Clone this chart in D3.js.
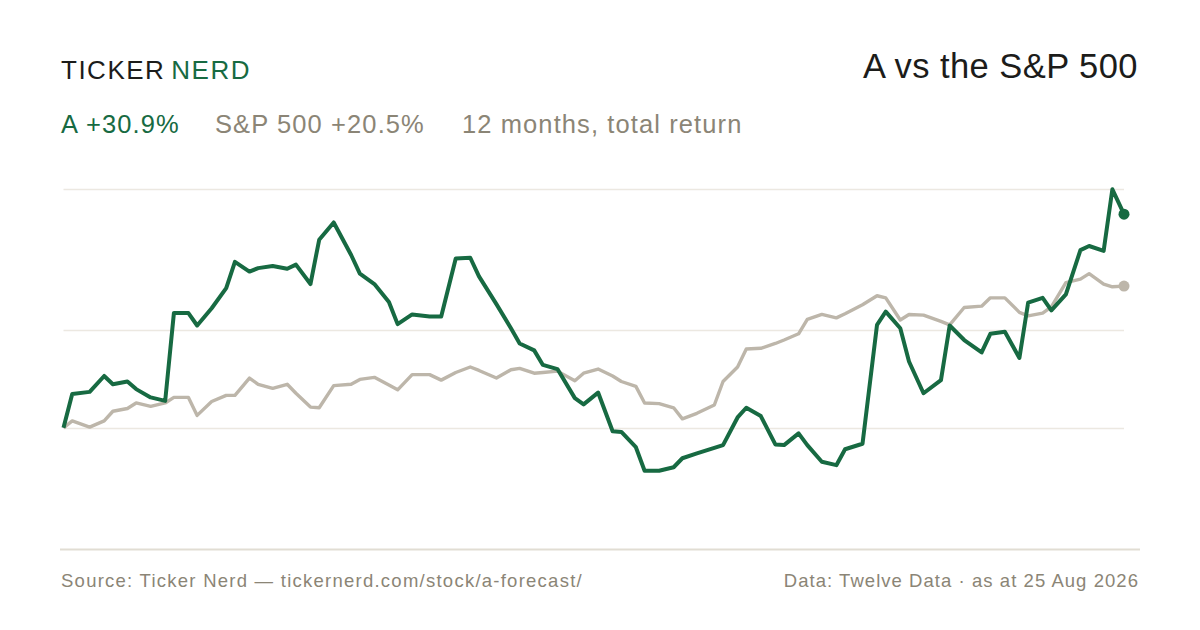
<!DOCTYPE html>
<html>
<head>
<meta charset="utf-8">
<script src="https://cdn.jsdelivr.net/npm/d3@7"></script>
<style>
  html, body { margin: 0; padding: 0; background: #fff; }
  svg { display: block; font-family: 'Liberation Sans', Arial, sans-serif; }
</style>
</head>
<body>
<script>
// sample dates, every third trading day plus the last close
const dates = [
  '2025-08-25', '2025-08-28', '2025-09-03', '2025-09-08', '2025-09-11', '2025-09-16', '2025-09-19',
  '2025-09-24', '2025-09-29', '2025-10-02', '2025-10-07', '2025-10-10', '2025-10-15', '2025-10-20',
  '2025-10-23', '2025-10-28', '2025-10-31', '2025-11-05', '2025-11-10', '2025-11-13', '2025-11-18',
  '2025-11-21', '2025-11-26', '2025-12-02', '2025-12-05', '2025-12-10', '2025-12-15', '2025-12-18',
  '2025-12-23', '2025-12-29', '2026-01-02', '2026-01-07', '2026-01-12', '2026-01-15', '2026-01-21',
  '2026-01-26', '2026-01-29', '2026-02-03', '2026-02-06', '2026-02-11', '2026-02-17', '2026-02-20',
  '2026-02-25', '2026-03-02', '2026-03-05', '2026-03-10', '2026-03-13', '2026-03-18', '2026-03-23',
  '2026-03-26', '2026-03-31', '2026-04-06', '2026-04-09', '2026-04-14', '2026-04-17', '2026-04-22',
  '2026-04-27', '2026-04-30', '2026-05-05', '2026-05-08', '2026-05-13', '2026-05-18', '2026-05-21',
  '2026-05-27', '2026-06-01', '2026-06-04', '2026-06-09', '2026-06-12', '2026-06-17', '2026-06-23',
  '2026-06-26', '2026-07-01', '2026-07-07', '2026-07-10', '2026-07-15', '2026-07-20', '2026-07-23',
  '2026-07-28', '2026-07-31', '2026-08-05', '2026-08-10', '2026-08-13', '2026-08-18', '2026-08-21',
  '2026-08-25'
]

// total return since start, %
const aReturns = [
  0, 4.9, 5.2, 7.5, 6.3, 6.7, 5.6, 4.4, 3.9, 16.6, 16.6, 14.8, 17.3, 20.2,
  24.0, 22.6, 23.1, 23.4, 23.0, 23.6, 20.8, 27.2, 29.7, 25.0, 22.3, 20.8, 18.2, 15.0,
  16.4, 16.1, 16.1, 24.5, 24.6, 21.9, 17.9, 14.4, 12.2, 11.2, 9.1, 8.5, 4.3, 3.4,
  5.1, -0.5, -0.6, -2.8, -6.2, -6.2, -5.7, -4.4, -3.7, -2.9, -2.5, 1.5, 2.9, 1.7,
  -2.4, -2.5, -0.8, -2.5, -4.9, -5.4, -3.1, -2.3, 14.9, 16.8, 14.4, 9.6, 5.0, 6.9,
  14.8, 12.7, 10.9, 13.6, 13.9, 10.1, 18.1, 18.8, 17.0, 19.3, 25.7, 26.3, 25.6, 34.5,
  30.9
]

const spReturns = [
  0, 1.0, 0.1, 1.0, 2.4, 2.8, 3.6, 3.1, 3.6, 4.4, 4.4, 1.8, 3.8, 4.7,
  4.7, 7.2, 6.3, 5.7, 6.3, 5.0, 3.0, 2.9, 6.1, 6.3, 7.0, 7.3, 6.2, 5.5,
  7.7, 7.7, 6.9, 8.0, 8.8, 8.3, 7.2, 8.4, 8.6, 7.9, 8.0, 8.2, 6.8, 7.9,
  8.5, 7.5, 6.7, 6.0, 3.6, 3.5, 2.9, 1.3, 2.1, 3.3, 6.7, 8.8, 11.4, 11.5,
  12.2, 12.7, 13.6, 15.7, 16.4, 15.9, 16.5, 17.8, 19.1, 18.8, 15.6, 16.4, 16.3, 15.4,
  14.9, 17.4, 17.6, 18.8, 18.8, 16.7, 16.2, 16.6, 17.5, 21.0, 21.5, 22.3, 20.8, 20.4,
  20.5
]

const tickerName = 'A'
const benchmarkName = 'S&P 500'
const periodLabel = '12 months, total return'
const sourceText = 'Source: Ticker Nerd \u2014 tickernerd.com/stock/a-forecast/'
const dataText = 'Data: Twelve Data \u00b7 as at 25 Aug 2026'

const width = 1200
const height = 630
const colours = {
  green: '#176a42',
  grey: '#bdb6aa',
  muted: '#8b8576',
  ink: '#1c1c1a',
  grid: '#ece8e1',
  rule: '#e1ddd3'
}

const parse = d3.timeParse('%Y-%m-%d')
const series = dates.map((d, i) => ({ date: parse(d), a: aReturns[i], sp: spReturns[i] }))

const svg = d3.select('body').append('svg')
  .attr('width', width)
  .attr('height', height)

svg.append('rect')
  .attr('width', width)
  .attr('height', height)
  .attr('fill', '#fff')

// Scales
const x = d3.scaleTime()
  .domain(d3.extent(series, d => d.date))
  .range([63.5, 1124])

const yMin = d3.min(series, d => Math.min(d.a, d.sp))
const yMax = d3.max(series, d => Math.max(d.a, d.sp))
const y = d3.scaleLinear()
  .domain([yMin, yMax])
  .range([470.7, 189.3])

// Gridlines: top of range, middle of range, zero line
const gridValues = [yMax, (yMax + yMin) / 2, 0]
svg.append('g')
  .attr('class', 'grid')
  .selectAll('line')
  .data(gridValues)
  .enter()
  .append('line')
  .attr('x1', x.range()[0])
  .attr('x2', x.range()[1])
  .attr('y1', d => Math.round(y(d)) + 0.5)
  .attr('y2', d => Math.round(y(d)) + 0.5)
  .attr('stroke', colours.grid)
  .attr('stroke-width', 1.4)

// Lines
const lineFor = key => d3.line()
  .x(d => x(d.date))
  .y(d => y(d[key]))

svg.append('path')
  .datum(series)
  .attr('d', lineFor('sp'))
  .attr('fill', 'none')
  .attr('stroke', colours.grey)
  .attr('stroke-width', 3.4)
  .attr('stroke-linejoin', 'round')

svg.append('path')
  .datum(series)
  .attr('d', lineFor('a'))
  .attr('fill', 'none')
  .attr('stroke', colours.green)
  .attr('stroke-width', 4)
  .attr('stroke-linejoin', 'round')

const last = series[series.length - 1]
svg.append('circle')
  .attr('cx', x(last.date))
  .attr('cy', y(last.sp))
  .attr('r', 5.5)
  .attr('fill', colours.grey)
svg.append('circle')
  .attr('cx', x(last.date))
  .attr('cy', y(last.a))
  .attr('r', 5.5)
  .attr('fill', colours.green)

// Header
const logo = svg.append('text')
  .attr('x', 61)
  .attr('y', 79.3)
  .attr('font-size', 26)
  .attr('letter-spacing', 1.5)
  .attr('fill', colours.ink)
logo.append('tspan').text('TICKER')
logo.append('tspan')
  .attr('dx', 6)
  .attr('fill', colours.green)
  .text('NERD')

svg.append('text')
  .attr('x', 1138)
  .attr('y', 78.3)
  .attr('text-anchor', 'end')
  .attr('font-size', 34.5)
  .attr('letter-spacing', 0.45)
  .attr('fill', colours.ink)
  .text(`${tickerName} vs the ${benchmarkName}`)

const fmt = v => (v >= 0 ? '+' : '') + v.toFixed(1) + '%'
const subtitle = [
  { text: `${tickerName} ${fmt(last.a)}`, x: 61, fill: colours.green },
  { text: `${benchmarkName} ${fmt(last.sp)}`, x: 215, fill: colours.muted },
  { text: periodLabel, x: 462, fill: colours.muted }
]
svg.append('g')
  .selectAll('text')
  .data(subtitle)
  .enter()
  .append('text')
  .attr('x', d => d.x)
  .attr('y', 133.3)
  .attr('font-size', 25.5)
  .attr('letter-spacing', 1.1)
  .attr('fill', d => d.fill)
  .text(d => d.text)

// Footer
svg.append('line')
  .attr('x1', 60)
  .attr('x2', 1140)
  .attr('y1', 549.5)
  .attr('y2', 549.5)
  .attr('stroke', colours.rule)
  .attr('stroke-width', 2)

const footer = svg.append('g')
  .attr('font-size', 18.5)
  .attr('fill', colours.muted)

footer.append('text')
  .attr('x', 61)
  .attr('y', 586.5)
  .attr('letter-spacing', 1.25)
  .text(sourceText)

footer.append('text')
  .attr('x', 1139)
  .attr('y', 586.5)
  .attr('text-anchor', 'end')
  .attr('letter-spacing', 1.05)
  .text(dataText)
</script>
</body>
</html>
